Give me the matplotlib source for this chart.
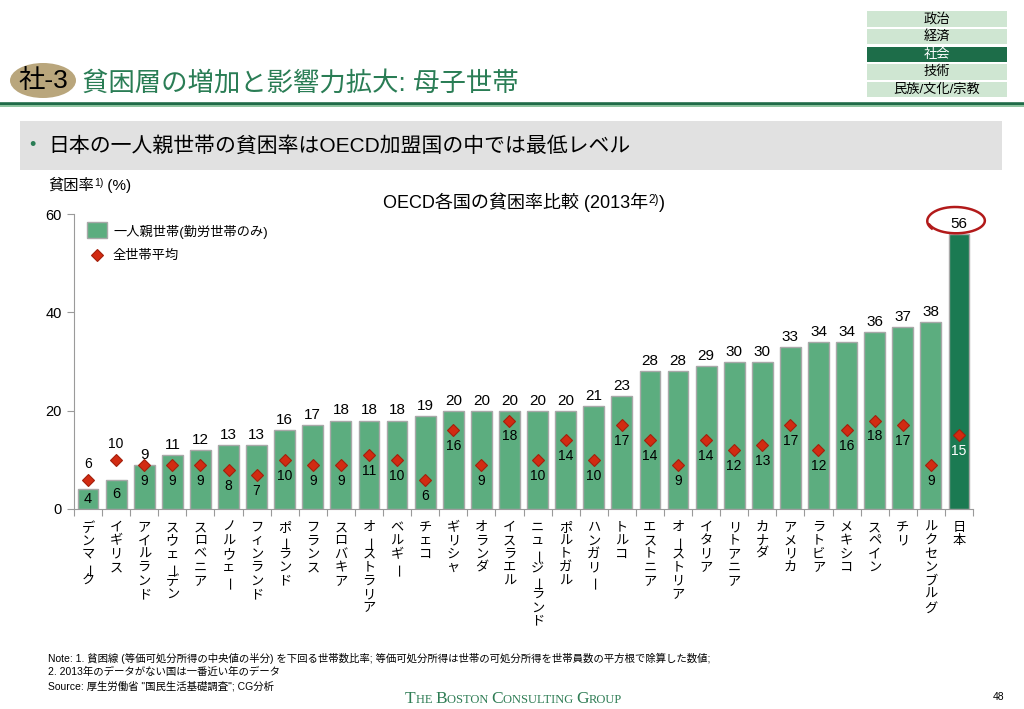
import matplotlib
matplotlib.use('Agg')
import matplotlib.pyplot as plt
from matplotlib.patches import Rectangle, Ellipse
from matplotlib.lines import Line2D
import numpy as np

plt.rcParams['font.family'] = ['Liberation Sans', 'Noto Sans CJK JP', 'DejaVu Sans']

# ---------------- data ----------------
countries = ['デンマーク', 'イギリス', 'アイルランド', 'スウェーデン', 'スロベニア', 'ノルウェー',
             'フィンランド', 'ポーランド', 'フランス', 'スロバキア', 'オーストラリア', 'ベルギー',
             'チェコ', 'ギリシャ', 'オランダ', 'イスラエル', 'ニュージーランド', 'ポルトガル',
             'ハンガリー', 'トルコ', 'エストニア', 'オーストリア', 'イタリア', 'リトアニア',
             'カナダ', 'アメリカ', 'ラトビア', 'メキシコ', 'スペイン', 'チリ', 'ルクセンブルグ', '日本']
single_parent = [4, 6, 9, 11, 12, 13, 13, 16, 17, 18, 18, 18, 19, 20, 20, 20, 20, 20, 21, 23,
                 28, 28, 29, 30, 30, 33, 34, 34, 36, 37, 38, 56]
all_households = [6, 10, 9, 9, 9, 8, 7, 10, 9, 9, 11, 10, 6, 16, 9, 18, 10, 14, 10, 17,
                  14, 9, 14, 12, 13, 17, 12, 16, 18, 17, 9, 15]
yticks = [0, 20, 40, 60]
nav_items = ['政治', '経済', '社会', '技術', '民族/文化/宗教']
nav_selected = '社会'

# ---------------- style ----------------
GREEN = '#5cad7f'
DARK = '#1b7a52'
RED = '#d22b12'
TITLE_GREEN = '#2a7d55'
W, H = 1024, 709

fig = plt.figure(figsize=(W / 100, H / 100), dpi=100)
fig.patch.set_facecolor('white')


def fx(p):
    return p / W


def fy(p):
    return 1 - p / H


def seq_text(x_px, y_px, pieces, **kw):
    """Draw pieces of text one after another, pieces=(text, size, dy_px, extra)."""
    r = fig.canvas.get_renderer()
    x = x_px
    for text, size, dy, extra in pieces:
        opts = dict(kw)
        opts.update(extra)
        t = fig.text(fx(x), fy(y_px - dy), text, fontsize=size, va='baseline', ha='left', **opts)
        bb = t.get_window_extent(renderer=r)
        x += bb.width
    return x


# ---------------- header ----------------
fig.patches.append(Ellipse((fx(43), fy(80.5)), fx(66), 35 / H, transform=fig.transFigure,
                           facecolor='#b9a67c', edgecolor='none'))
fig.text(fx(43), fy(81), '社-3', fontsize=19, ha='center', va='center', color='black')
fig.text(fx(82), fy(83), '貧困層の増加と影響力拡大: 母子世帯', fontsize=19, ha='left', va='center',
         color=TITLE_GREEN)
fig.add_artist(Line2D([0, 1], [fy(103.5), fy(103.5)], transform=fig.transFigure, color='#1f6b48', lw=2.6))
fig.add_artist(Line2D([0, 1], [fy(106.3), fy(106.3)], transform=fig.transFigure, color='#8cc49f', lw=1.4))

row_tops = [11, 28.5, 46.5, 64, 81.5]
for name, top in zip(nav_items, row_tops):
    sel = name == nav_selected
    fig.patches.append(Rectangle((fx(867), fy(top + 15.5)), fx(140), 15.5 / H, transform=fig.transFigure,
                                 facecolor='#1d6d49' if sel else '#cfe6d2', edgecolor='none'))
    fig.text(fx(937), fy(top + 8), name, fontsize=9.5, ha='center', va='center',
             color='white' if sel else 'black')

fig.patches.append(Rectangle((fx(20), fy(170)), fx(982), 49 / H, transform=fig.transFigure,
                             facecolor='#e1e1e1', edgecolor='none'))
fig.text(fx(32), fy(146), '•', fontsize=13, ha='center', va='center', color=TITLE_GREEN)
fig.text(fx(48), fy(146), '日本の一人親世帯の貧困率はOECD加盟国の中では最低レベル', fontsize=15,
         ha='left', va='center', color='black')

seq_text(48, 190, [('貧困率', 11, 0, {}), ('1)', 7.5, 4, {}), (' (%)', 11, 0, {})])
seq_text(383, 208, [('OECD各国の貧困率比較 (2013年', 13, 0, {}), ('2)', 8.5, 5, {}), (')', 13, 0, {})])

# ---------------- chart ----------------
ax = fig.add_axes([fx(74), fy(509), (973 - 74) / W, (509 - 214) / H])
n = len(countries)
x = np.arange(n)
colors = [GREEN] * (n - 1) + [DARK]
ax.bar(x, single_parent, width=0.74, color=colors, edgecolor='#a8a8a8', linewidth=1.0, zorder=2)
ax.plot(x, all_households, ls='none', marker='D', ms=6.2, color=RED, mec='#a3200c', mew=0.8, zorder=3)

ax.set_xlim(-0.5, n - 0.5)
ax.set_ylim(0, 60)
ax.set_yticks(yticks)
ax.set_yticklabels([str(v) for v in yticks], fontsize=10.5)
ax.set_xticks([])
ax.set_xticks(np.arange(-0.5, n, 1.0), minor=True)
ax.tick_params(axis='x', which='minor', length=5, color='#9a9a9a', width=0.8)
ax.tick_params(axis='y', length=5, color='#9a9a9a', width=0.8, pad=4)
for s in ['top', 'right']:
    ax.spines[s].set_visible(False)
for s in ['left', 'bottom']:
    ax.spines[s].set_color('#9a9a9a')
    ax.spines[s].set_linewidth(0.8)
ax.patch.set_alpha(0)

for i, (b, d) in enumerate(zip(single_parent, all_households)):
    if d > b:
        ax.text(i, b / 2, f'{b}', ha='center', va='center', fontsize=10.5)
        ax.annotate(f'{d}', (i, d), xytext=(0, 16), textcoords='offset pixels', ha='center',
                    va='center', fontsize=10)
    else:
        ax.annotate(f'{b}', (i, b), xytext=(0, 3), textcoords='offset pixels', ha='center',
                    va='bottom', fontsize=11)
        ax.annotate(f'{d}', (i, d), xytext=(0, -16), textcoords='offset pixels', ha='center',
                    va='center', fontsize=10, color='white' if i == n - 1 else 'black')

# vertical category labels (one character per line; long-vowel mark turned upright)
step = 13.4
for i, name in enumerate(countries):
    for k, ch in enumerate(name):
        if ch == 'ー':
            ax.annotate(ch, (i, 0), xycoords=('data', 'axes fraction'),
                        xytext=(3, -13 - k * step - step / 2), textcoords='offset pixels',
                        ha='center', va='center', fontsize=10, rotation=90,
                        rotation_mode='anchor')
        else:
            ax.annotate(ch, (i, 0), xycoords=('data', 'axes fraction'),
                        xytext=(0, -13 - k * step), textcoords='offset pixels',
                        ha='center', va='top', fontsize=9.5)

# legend (manual)
fig.patches.append(Rectangle((fx(87), fy(238)), fx(20), 16 / H, transform=fig.transFigure,
                             facecolor=GREEN, edgecolor='#a8a8a8', lw=1))
fig.text(fx(113), fy(232), '一人親世帯(勤労世帯のみ)', fontsize=9.5, ha='left', va='center')
fig.add_artist(Line2D([fx(97)], [fy(255)], transform=fig.transFigure, ls='none', marker='D', ms=6.2,
                      color=RED, mec='#a3200c', mew=0.8))
fig.text(fx(113), fy(256), '全世帯平均', fontsize=9.5, ha='left', va='center')

# hand-drawn circle around Japan's value
th = np.linspace(np.deg2rad(200), np.deg2rad(200 + 375), 200)
rx = 28.5 + 0.9 * np.sin(th * 1.3)
ry = 12.5 + 1.5 * (th - th[0]) / (th[-1] - th[0])
cx_pts = 955.5 + rx * np.cos(th)
cy_pts = 220.5 - ry * np.sin(th)
fig.add_artist(Line2D(fx(cx_pts), fy(cy_pts), transform=fig.transFigure, color='#b21a1a', lw=1.8))

# ---------------- footer ----------------
notes = ['Note: 1. 貧困線 (等価可処分所得の中央値の半分) を下回る世帯数比率; 等価可処分所得は世帯の可処分所得を世帯員数の平方根で除算した数値;',
         '2. 2013年のデータがない国は一番近い年のデータ',
         'Source: 厚生労働省 "国民生活基礎調査"; CG分析']
for j, line in enumerate(notes):
    fig.text(fx(48), fy(658 + j * 14), line, fontsize=7.5, ha='left', va='center')
fig.text(fx(1004), fy(697), '48', fontsize=7.5, ha='right', va='center')

logo_pieces = []
for w_i, word in enumerate(['The', 'Boston', 'Consulting', 'Group']):
    logo_pieces.append((word[0].upper(), 12.5, 0, {}))
    logo_pieces.append((word[1:].upper() + (' ' if w_i < 3 else ''), 9.0, 0, {}))
seq_text(405, 703, logo_pieces, family='Liberation Serif', color='#2f7d55')

fig.savefig('out.png', dpi=100)
